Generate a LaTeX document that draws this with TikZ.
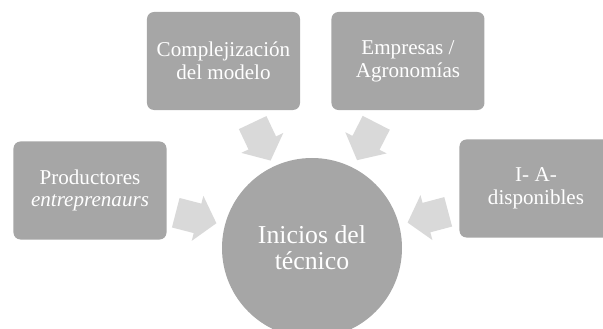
\documentclass[tikz,border=0pt]{standalone}
\usepackage{fontspec}
\setmainfont{Liberation Serif}
\usetikzlibrary{positioning}
\usetikzlibrary{shapes.arrows}

\tikzset{
	box/.style = {rectangle, rounded corners=0.21cm, fill=black!35, text=white, align=center, minimum width=4.59cm, minimum height=2.94cm, font=\rmfamily\fontsize{18}{19.5}\selectfont},
	hub/.style = {circle, fill=black!35, text=white, align=center, minimum size=5.4cm, font=\rmfamily\fontsize{22}{22}\selectfont},
	feed/.style = {single arrow, fill=black!15, single arrow head extend=0.24cm, single arrow tip angle=100, inner xsep=0pt, inner ysep=0.45cm, minimum height=1.26cm, sloped, allow upside down}
}

\begin{document}
\begin{tikzpicture}[x=0.03cm, y=0.03cm]
					\clip (0,0) rectangle (603,329);
					\node[hub] (hub) at (312,81) {Inicios del\\técnico};
					\node[box] (tl) at (223.5,268) {Complejización\\del modelo};
					\node[box, right = 0.93cm of tl] (tr) {Empresas /\\Agronomías};
					\node[box] (left) at (90,138.5) {Productores\\\textit{entreprenaurs}};
					\node[box] (right) at (536,140.5) {I- A-\\disponibles};
					
					\path (left.center) -- (hub.center) node[feed, pos = 0.45] (a1) {};
					\path (tl.center) -- (hub.center) node[feed, pos = 0.4] (a2) {};
					\path (tr.center) -- (hub.center) node[feed, pos = 0.4] (a3) {};
					\path (right.center) -- (hub.center) node[feed, pos = 0.455] (a4) {};
				\end{tikzpicture}
\end{document}
